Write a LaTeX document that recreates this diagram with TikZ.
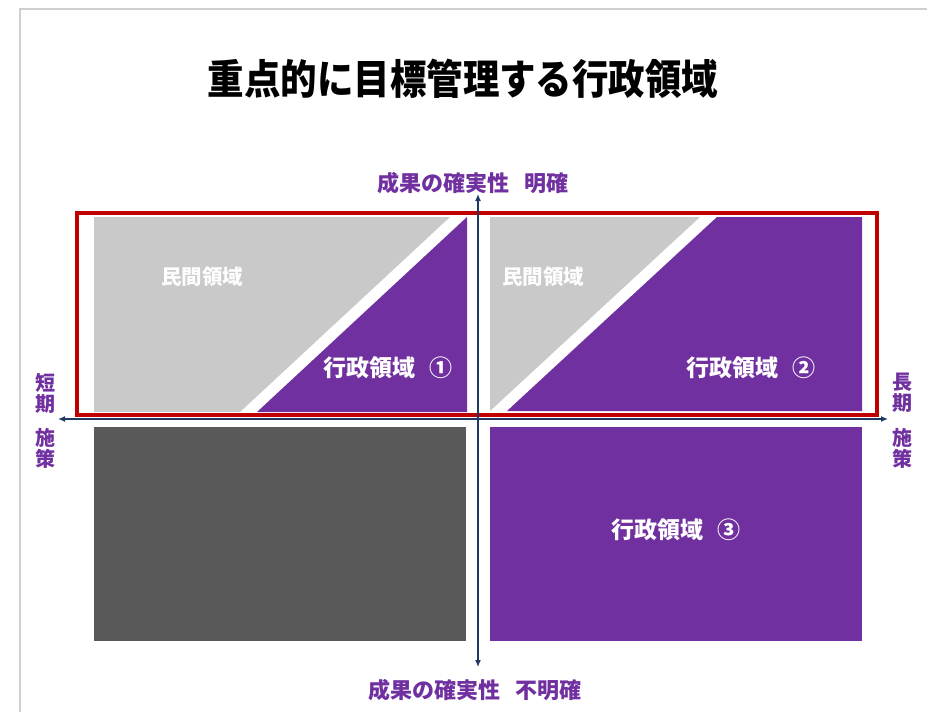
\documentclass[tikz,border=0pt]{standalone}
\usepackage{fontspec}
\setmainfont{Noto Sans CJK JP}
\usetikzlibrary{arrows.meta}
\definecolor{vio}{HTML}{7030A0}
\definecolor{lgray}{HTML}{C9C9C9}
\definecolor{dgray}{HTML}{595959}
\definecolor{navy}{HTML}{1F3864}
\definecolor{redb}{HTML}{C00000}
\definecolor{framec}{HTML}{CFCFCF}
\begin{document}
\begin{tikzpicture}[x=1pt,y=-1pt,
  title/.style={font=\fontsize{41}{46}\selectfont\bfseries, text=black, inner sep=0},
  axislabel/.style={font=\fontsize{22}{24}\selectfont\bfseries, text=vio, inner sep=0},
  sidelabel/.style={font=\fontsize{20}{21}\selectfont\bfseries, text=vio, inner sep=0, align=center},
  whitelabel/.style={font=\fontsize{23}{26}\selectfont\bfseries, text=white, inner sep=0},
  privlabel/.style={font=\fontsize{20.5}{24}\selectfont\bfseries, text=white!96!lgray, inner sep=0},
  axisline/.style={draw=navy, line width=1.3, {Latex[length=7,width=6]}-{Latex[length=7,width=6]}},
]
\useasboundingbox (0,0) rectangle (927,712);
\fill[white] (0,0) rectangle (927,712);
% page frame
\draw[framec, line width=2] (19.5,712) -- (19.5,8.5) -- (927,8.5);

% title
\node[title] (title) at (463,79) {\scalebox{0.89}[1]{重点的に目標管理する行政領域}};

% top-left quadrant
\fill[lgray] (94,217) -- (450,217) -- (240,412) -- (94,412) -- cycle;
\fill[vio] (467,217) -- (467,412) -- (257,412) -- cycle;
% top-right quadrant
\fill[lgray] (490,217) -- (700,217) -- (490,411) -- cycle;
\fill[vio] (717,217) -- (862,217) -- (862,411) -- (507,411) -- cycle;
% bottom quadrants
\fill[dgray] (94,427) rectangle (466,641);
\fill[vio] (490,427) rectangle (862,641);

% labels in quadrants
\node[privlabel] (p1) at (202,277) {民間領域};
\node[whitelabel] (g1) at (388,368) {行政領域\hspace{0.6em}①};
\node[privlabel] (p2) at (543,277) {民間領域};
\node[whitelabel] (g2) at (751,368) {行政領域\hspace{0.6em}②};
\node[whitelabel] (g3) at (676,530) {行政領域\hspace{0.6em}③};

% red emphasis frame
\draw[redb, line width=3.5] (77,213) rectangle (877,415);

% axes
\coordinate (vt) at (478,194);
\coordinate (vb) at (478,667);
\coordinate (hl) at (58,419);
\coordinate (hr) at (888,419);
\draw[axisline] (vb) -- (vt);
\draw[axisline] (hl) -- (hr);

% axis labels
\node[axislabel] (top) at (473,183) {成果の確実性\hspace{0.7em}明確};
\node[axislabel] (bot) at (475,690) {成果の確実性\hspace{0.7em}不明確};
\node[sidelabel] (l1) at (45,393) {短\\期};
\node[sidelabel] (l2) at (45,448) {施\\策};
\node[sidelabel] (r1) at (902,393) {長\\期};
\node[sidelabel] (r2) at (902,448) {施\\策};
\end{tikzpicture}
\end{document}
